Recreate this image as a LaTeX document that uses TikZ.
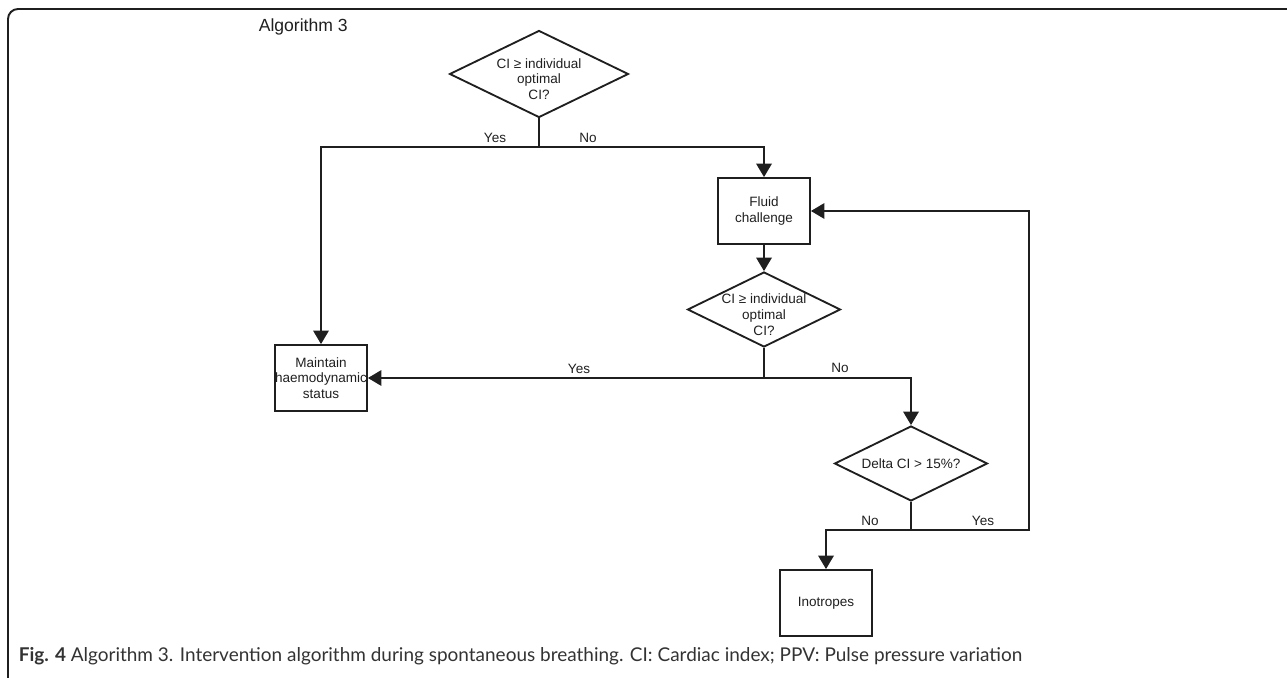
\documentclass[tikz,border=0pt]{standalone}
\usepackage{fontspec}
\setmainfont{Liberation Sans}
\newfontfamily\capfont{Lato}
\usepackage{tikz}
\usetikzlibrary{arrows.meta,shapes.geometric}

\begin{document}
\begin{tikzpicture}[x=0.02cm, y=-0.02cm, line width=1.05pt, color=black!88,
        every node/.style={font=\fontsize{7.7}{9}\selectfont, text=black!88},
        box/.style={draw, rectangle, minimum width=1.84cm, minimum height=1.32cm,
            inner sep=0pt, align=center},
        decision/.style={draw, diamond, inner sep=0pt},
        flow/.style={-{Triangle[length=0.27cm, width=0.31cm]}}]
    \useasboundingbox (0, 0) rectangle (1287, 678);
    \draw[line width=1.1pt, rounded corners=0.2cm] (1287, 9) -- (8, 9) -- (8, 678);

    \node[anchor=west, font=\fontsize{10}{12}\selectfont] (title) at (252, 27) {Algorithm 3};

    \node[decision, minimum width=3.58cm, minimum height=1.74cm,
        label={[yshift=-0.1cm, align=center]center:CI ≥ individual\\optimal\\CI?}] (q1) at (539, 74) {};
    \node[box] (fluid) at (764, 211) {Fluid\\challenge};
    \node[decision, minimum width=3.06cm, minimum height=1.5cm,
        label={[yshift=-0.1cm, align=center]center:CI ≥ individual\\optimal\\CI?}] (q2) at (764, 309.5) {};
    \node[box] (maintain) at (321, 378) {Maintain\\haemodynamic\\status};
    \node[decision, minimum width=3.06cm, minimum height=1.5cm,
        label={center:Delta CI > 15\%?}] (q3) at (911, 463.5) {};
    \node[box] (inotropes) at (826, 603) {Inotropes};

    \coordinate (j1) at (539, 147);
    \coordinate (j2) at (764, 378);
    \coordinate (j3) at (911, 530);
    \coordinate (back) at (1029, 530);

    \draw (q1) -- (j1);
    \draw[flow] (j1) -| (maintain);
    \draw[flow] (j1) -| (fluid);
    \draw[flow] (fluid) -- (q2);
    \draw (q2) -- (j2);
    \draw[flow] (j2) -- (maintain);
    \draw[flow] (j2) -| (q3);
    \draw (q3) -- (j3);
    \draw[flow] (j3) -| (inotropes);
    \draw[flow] (j3) -- (back) |- (fluid);

    \node (yes1) at (495, 138) {Yes};
    \node (no1) at (588, 138) {No};
    \node (yes2) at (579, 369) {Yes};
    \node (no2) at (840, 368) {No};
    \node (no3) at (870, 521) {No};
    \node (yes3) at (983, 521) {Yes};

    \node[anchor=base west, font=\capfont\fontsize{10.8}{12}\selectfont, text=black!80] (caption)
        at (12, 661) {\textbf{Fig. 4} Algorithm 3. Intervention algorithm during spontaneous breathing. CI: Cardiac index; PPV: Pulse pressure variation};
\end{tikzpicture}
\end{document}
